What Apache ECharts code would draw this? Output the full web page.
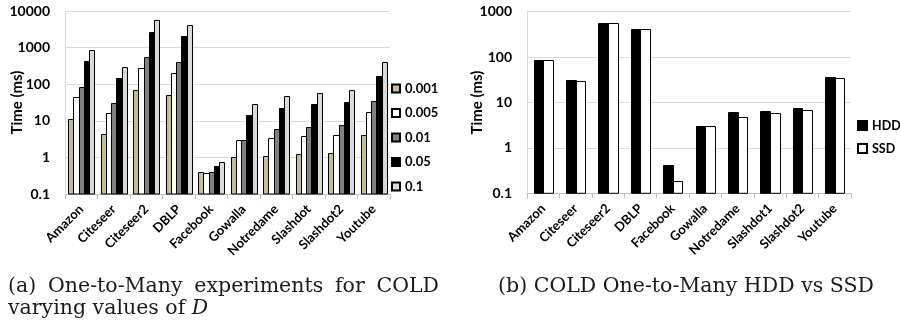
<!DOCTYPE html>
<html><head><meta charset="utf-8">
<script src="https://cdn.jsdelivr.net/npm/echarts@6/dist/echarts.min.js"></script>
<style>html,body{margin:0;padding:0;background:#fff}#c{width:900px;height:329px}</style>
</head><body><div id="c"></div>
<script>
const cats1 = ['Amazon','Citeseer','Citeseer2','DBLP','Facebook','Gowalla','Notredame','Slashdot','Slashdot2','Youtube'];
const cats2 = ['Amazon','Citeseer','Citeseer2','DBLP','Facebook','Gowalla','Notredame','Slashdot1','Slashdot2','Youtube'];
const seriesNames1 = ['0.001','0.005','0.01','0.05','0.1'];
const d001 = [11, 4.3, 68, 50, 0.39, 1.0, 1.1, 1.24, 1.3, 4.0];
const d005 = [44, 16, 277, 206, 0.375, 2.9, 3.4, 3.8, 4.2, 17.7];
const d01  = [85, 31, 565, 412, 0.40, 2.9, 6.1, 6.8, 7.5, 34];
const d05  = [430, 148, 2670, 2040, 0.58, 14, 23, 28, 33, 167];
const d1   = [860, 300, 5680, 4230, 0.76, 29, 47, 57, 68, 404];
const seriesNames2 = ['HDD','SSD'];
const hdd = [85, 31, 555, 422, 0.41, 3.1, 6.1, 6.5, 7.4, 36];
const ssd = [86, 30, 555, 410, 0.19, 3.0, 4.7, 6.0, 6.7, 34];
const yTitle = 'Time (ms)';
const caption1a = ['(a)','One-to-Many','experiments','for','COLD'];
const caption1b = 'varying values of ';
const caption2 = '(b) COLD One-to-Many HDD vs SSD';

const FONT = 'Lato';
const SERIF = 'DejaVu Serif';
const CAPSIZE = 20.5;
const colors1 = ['#c4bd97','#ffffff','#808080','#000000','#d9d9d9'];
const colors2 = ['#000000','#ffffff'];
const data1 = [d001,d005,d01,d05,d1];
const data2 = [hdd, ssd];

function xAxis(cats, gi){
  return {type:'category', gridIndex:gi, data:cats,
    axisLine:{lineStyle:{color:'#bfbfbf',width:1}},
    axisTick:{show:true,length:5,lineStyle:{color:'#bfbfbf'}},
    axisLabel:{rotate:45, margin:13, color:'#000', fontFamily:FONT, fontWeight:'bold', fontSize:13, interval:0},
    splitLine:{show:false}};
}
function yAxis(gi, max, gap){
  return {type:'log', gridIndex:gi, logBase:10, min:0.1, max:max,
    name:yTitle, nameLocation:'middle', nameGap:gap, nameRotate:90, nameMoveOverlap:false,
    nameTextStyle:{color:'#000', fontFamily:FONT, fontWeight:'bold', fontSize:15},
    axisLine:{show:true,lineStyle:{color:'#d9d9d9'}},
    axisTick:{show:false},
    axisLabel:{margin:15, color:'#000', fontFamily:FONT, fontWeight:'bold', fontSize:14, formatter:v=>String(v)},
    splitLine:{show:true,lineStyle:{color:'#d9d9d9',width:1}}};
}
// clustered bars drawn from the axis minimum (0.1) via the library's coordinate system
function barSeries(name, idx, count, values, color, fill, gi, axisMin){
  return {name:name, type:'custom', xAxisIndex:gi, yAxisIndex:gi,
    itemStyle:{color:color, borderColor:'#000', borderWidth:1},
    data: values.map((v,k)=>[k, v]),
    encode:{x:0, y:1},
    renderItem:function(params, api){
      const k = api.value(0), v = api.value(1);
      const top = api.coord([k, v]);
      const base = api.coord([k, axisMin]);
      const band = api.size([1, 1])[0];
      const groupW = band * fill;
      const w = groupW / count;
      const x0 = Math.round(top[0] - groupW/2 + idx*w) + 0.5;
      const x1 = Math.round(top[0] - groupW/2 + (idx+1)*w) + 0.5;
      const y0 = Math.round(top[1]) + 0.5;
      return {type:'rect', shape:{x:x0, y:y0, width:x1-x0, height:base[1]-y0},
        style:{fill:color, stroke:'#000', lineWidth:1}};
    }};
}
const series = [];
seriesNames1.forEach((n,i)=>series.push(barSeries(n, i, 5, data1[i], colors1[i], 0.8, 0, 0.1)));
seriesNames2.forEach((n,i)=>series.push(barSeries(n, i, 2, data2[i], colors2[i], 0.59, 1, 0.1)));

// caption text layout (justified first line of caption a)
const ctx = document.createElement('canvas').getContext('2d');
ctx.font = CAPSIZE + 'px "' + SERIF + '"';
const widths = caption1a.map(w=>ctx.measureText(w).width);
const lineL = 8, lineR = 439;
const gapW = (lineR - lineL - widths.reduce((a,b)=>a+b,0)) / (caption1a.length - 1);
let cx = lineL;
const capStyle = {fontFamily:SERIF, fontSize:CAPSIZE, fill:'#1a1a1a', verticalAlign:'middle'};
const graphics = caption1a.map((w,i)=>{ const g = {type:'text', x:cx, y:287, style:Object.assign({text:w, align:'left'}, capStyle)}; cx += widths[i] + gapW; return g; });
graphics.push({type:'text', x:8, y:309, style:Object.assign({rich:{i:{fontFamily:SERIF,fontSize:CAPSIZE,fontStyle:'italic',fill:'#1a1a1a'}}, text:caption1b+'{i|D}', align:'left'}, capStyle)});
graphics.push({type:'text', x:686, y:287, style:Object.assign({text:caption2, align:'center'}, capStyle)});

const chart = echarts.init(document.getElementById('c'), null, {renderer:'canvas'});
chart.setOption({
  animation:false,
  backgroundColor:'#fff',
  grid:[{left:65,right:510,top:11,bottom:135},{left:527,right:49,top:11.7,bottom:135.7}],
  xAxis:[xAxis(cats1,0), xAxis(cats2,1)],
  yAxis:[yAxis(0,10000,40), yAxis(1,1000,42)],
  legend:[
    {data:seriesNames1, orient:'vertical', left:391, top:82, padding:0, itemWidth:8, itemHeight:8, itemGap:11.5, icon:'rect',
     textStyle:{fontFamily:FONT,fontWeight:'bold',fontSize:13,color:'#000'}, selectedMode:false},
    {data:seriesNames2, orient:'vertical', left:857, top:119, padding:0, itemWidth:9, itemHeight:9, itemGap:10, icon:'rect',
     textStyle:{fontFamily:FONT,fontWeight:'bold',fontSize:12.5,color:'#000'}, selectedMode:false}
  ],
  series:series,
  graphic:graphics
});
</script></body></html>
